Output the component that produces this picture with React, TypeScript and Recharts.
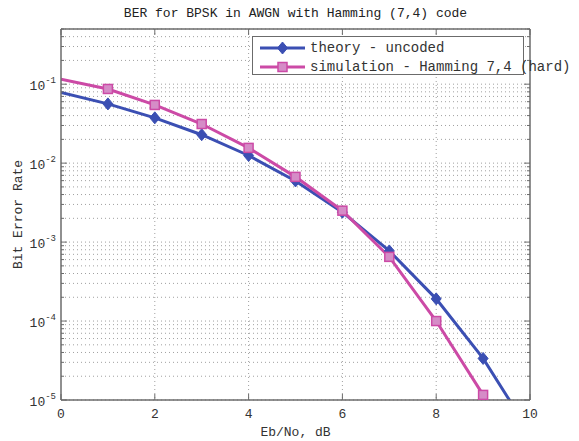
import React from 'react';
import { LineChart, Line, XAxis, YAxis, CartesianGrid, Legend } from 'recharts';

const ebno = [0, 1, 2, 3, 4, 5, 6, 7, 8, 9, 10];
const theoryBer = [0.0786, 0.0563, 0.0375, 0.0229, 0.0125, 0.00595, 0.00239, 0.000773, 0.000191, 0.0000336, 0.00000387];
const hammingBer: (number | null)[] = [0.116, 0.087, 0.0546, 0.0313, 0.0156, 0.0067, 0.0025, 0.00065, 0.0001, 0.0000116, null];
const xTicks = [0, 2, 4, 6, 8, 10];
const xGrid = [2, 4, 6, 8];
const decadeTicks = [1e-5, 1e-4, 1e-3, 1e-2, 1e-1];
const decadeLabels = ['-5', '-4', '-3', '-2', '-1'];
const minorMultipliers = [2, 3, 4, 5, 6, 7, 8, 9];
const yMin = 1e-5;
const yMax = 0.5;
const title = 'BER for BPSK in AWGN with Hamming (7,4) code';
const xLabel = 'Eb/No, dB';
const yLabel = 'Bit Error Rate';
const seriesNames = ['theory - uncoded', 'simulation - Hamming 7,4 (hard)'];

const BLUE = '#3b4fb3';
const MAGENTA = '#cc4aa6';
const SQ_FILL = '#d58cc7';
const AXIS = '#6b6b6b';
const TEXT = '#333';
const FONT = '"Liberation Mono", "DejaVu Sans Mono", monospace';
const seriesColors = [BLUE, MAGENTA];

const yAllTicks: number[] = [];
decadeTicks.forEach((d) => {
  yAllTicks.push(d);
  minorMultipliers.forEach((k) => {
    const v = d * k;
    if (v <= yMax + 1e-12) yAllTicks.push(v);
  });
});
yAllTicks.sort((a, b) => a - b);

const data = ebno.map((x, i) => ({ x, theory: theoryBer[i], hamming: hammingBer[i] }));

const isDecade = (v: number) => decadeTicks.findIndex((d) => Math.abs(d - v) / d < 1e-9);

const LeftTick = (props: any) => {
  const { x, y, payload } = props;
  const idx = isDecade(payload.value);
  const major = idx >= 0;
  return (
    <g>
      <line x1={x} y1={y} x2={x + (major ? 6 : 3)} y2={y} stroke={AXIS} strokeWidth={1} />
      {major && (
        <text x={x - 5} y={y} dy={6} textAnchor="end" fontFamily={FONT} fontSize={13} fill={TEXT}>
          <tspan>10</tspan>
          <tspan dy={-7} fontSize={9}>{decadeLabels[idx]}</tspan>
        </text>
      )}
    </g>
  );
};

const RightTick = (props: any) => {
  const { x, y, payload } = props;
  const major = isDecade(payload.value) >= 0;
  return <line x1={x} y1={y} x2={x - (major ? 6 : 3)} y2={y} stroke={AXIS} strokeWidth={1} />;
};

const BottomTick = (props: any) => {
  const { x, y, payload } = props;
  return (
    <g>
      <line x1={x} y1={y} x2={x} y2={y - 6} stroke={AXIS} strokeWidth={1} />
      <text x={x} y={y + 18} textAnchor="middle" fontFamily={FONT} fontSize={13} fill={TEXT}>
        {payload.value}
      </text>
    </g>
  );
};

const TopTick = (props: any) => {
  const { x, y } = props;
  return <line x1={x} y1={y} x2={x} y2={y + 6} stroke={AXIS} strokeWidth={1} />;
};

const DiamondDot = (props: any) => {
  const { cx, cy, index, value } = props;
  if (index === 0 || cx == null || cy == null || value == null || value < yMin) return <g key={`d${index}`} />;
  return (
    <path
      key={`d${index}`}
      d={`M${cx},${cy - 6} L${cx + 5},${cy} L${cx},${cy + 6} L${cx - 5},${cy} Z`}
      fill={BLUE}
      stroke={BLUE}
      strokeWidth={1}
    />
  );
};

const SquareDot = (props: any) => {
  const { cx, cy, index, value } = props;
  if (index === 0 || cx == null || cy == null || value == null || value < yMin) return <g key={`s${index}`} />;
  return <rect key={`s${index}`} x={cx - 4.5} y={cy - 4.5} width={9} height={9} fill={SQ_FILL} stroke={MAGENTA} strokeWidth={1.5} />;
};

const LegendContent = () => {
  return (
    <div
      style={{
        width: 272,
        height: 39,
        border: `1.5px solid ${AXIS}`,
        background: '#fff',
        boxSizing: 'border-box',
        position: 'relative',
        fontFamily: FONT,
        fontSize: 14,
        color: TEXT,
      }}
    >
      {seriesNames.map((name: string, i: number) => (
        <div
          key={i}
          style={{ position: 'absolute', left: 7, top: 2 + i * 19, height: 18, display: 'flex', alignItems: 'center', whiteSpace: 'nowrap' }}
        >
          <svg width={45} height={14} style={{ display: 'block' }}>
            <line x1={0} y1={7} x2={45} y2={7} stroke={seriesColors[i]} strokeWidth={3} />
            {i === 0 ? (
              <path d="M22.5,1 L27.5,7 L22.5,13 L17.5,7 Z" fill={BLUE} stroke={BLUE} />
            ) : (
              <rect x={18} y={2.5} width={9} height={9} fill={SQ_FILL} stroke={MAGENTA} strokeWidth={1.5} />
            )}
          </svg>
          <span style={{ marginLeft: 5 }}>{name}</span>
        </div>
      ))}
    </div>
  );
};

export default function App() {
  return (
    <div style={{ position: 'absolute', left: 0, top: 0, width: 579, height: 441, background: '#fff' }}>
      <div
        style={{
          position: 'absolute',
          left: 0,
          top: 5,
          width: 591,
          textAlign: 'center',
          fontFamily: FONT,
          fontSize: 13,
          lineHeight: '18px',
          color: '#222',
          zIndex: 2,
        }}
      >
        {title}
      </div>
      <LineChart width={579} height={441} data={data} margin={{ top: 0, right: 0, bottom: 0, left: 0 }}>
        <CartesianGrid
          horizontalValues={yAllTicks}
          verticalValues={xGrid}
          stroke="#a0a0a0"
          strokeDasharray="1 3"
          syncWithTicks={false}
        />
        <XAxis
          dataKey="x"
          type="number"
          domain={[0, 10]}
          ticks={xTicks}
          interval={0}
          height={41}
          tickSize={0}
          tickMargin={0}
          tickLine={false}
          tick={<BottomTick />}
          axisLine={{ stroke: AXIS, strokeWidth: 1.5 }}
          allowDataOverflow
          label={{
            content: (p: any) => (
              <text
                x={p.viewBox.x + p.viewBox.width / 2}
                y={p.viewBox.y + 36}
                textAnchor="middle"
                fontFamily={FONT}
                fontSize={13}
                fill={TEXT}
              >
                {xLabel}
              </text>
            ),
          }}
        />
        <XAxis
          xAxisId="top"
          orientation="top"
          dataKey="x"
          type="number"
          domain={[0, 10]}
          ticks={xTicks}
          interval={0}
          height={29}
          tickSize={0}
          tickMargin={0}
          tickLine={false}
          tick={<TopTick />}
          axisLine={{ stroke: AXIS, strokeWidth: 1.5 }}
          allowDataOverflow
        />
        <YAxis
          type="number"
          scale="log"
          domain={[yMin, yMax]}
          ticks={yAllTicks}
          interval={0}
          width={61}
          tickSize={0}
          tickMargin={0}
          tickLine={false}
          tick={<LeftTick />}
          axisLine={{ stroke: AXIS, strokeWidth: 1.5 }}
          allowDataOverflow
          label={{
            content: (p: any) => {
              const cx = p.viewBox.x + 18;
              const cy = p.viewBox.y + p.viewBox.height / 2;
              return (
                <text
                  x={cx}
                  y={cy}
                  transform={`rotate(-90 ${cx} ${cy})`}
                  textAnchor="middle"
                  dominantBaseline="central"
                  fontFamily={FONT}
                  fontSize={13}
                  fill={TEXT}
                >
                  {yLabel}
                </text>
              );
            },
          }}
        />
        <YAxis
          yAxisId="right"
          orientation="right"
          type="number"
          scale="log"
          domain={[yMin, yMax]}
          ticks={yAllTicks}
          interval={0}
          width={49}
          tickSize={0}
          tickMargin={0}
          tickLine={false}
          tick={<RightTick />}
          axisLine={{ stroke: AXIS, strokeWidth: 1.5 }}
          allowDataOverflow
        />
        <Legend
          layout="horizontal"
          verticalAlign="middle"
          align="center"
          content={<LegendContent />}
          wrapperStyle={{ left: 252, top: 36, width: 272, height: 39 }}
        />
        <Line
          type="linear"
          dataKey="theory"
          name={seriesNames[0]}
          stroke={BLUE}
          strokeWidth={3}
          dot={<DiamondDot />}
          activeDot={false}
          isAnimationActive={false}
        />
        <Line
          type="linear"
          dataKey="hamming"
          name={seriesNames[1]}
          stroke={MAGENTA}
          strokeWidth={3}
          dot={<SquareDot />}
          activeDot={false}
          isAnimationActive={false}
        />
      </LineChart>
    </div>
  );
}
